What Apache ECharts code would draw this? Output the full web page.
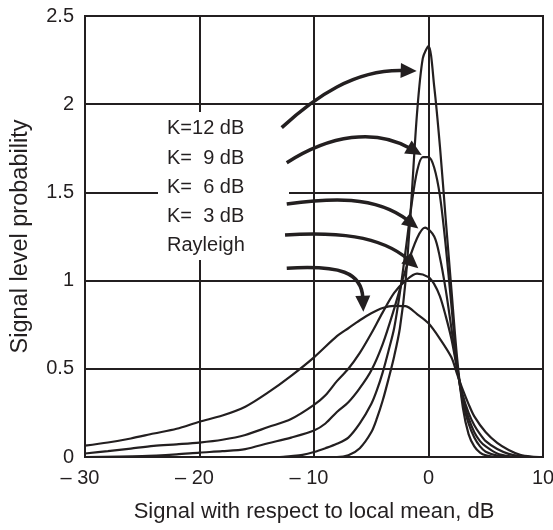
<!DOCTYPE html>
<html>
<head>
<meta charset="utf-8">
<script src="https://cdn.jsdelivr.net/npm/echarts@6/dist/echarts.min.js"></script>
<style>
html,body{margin:0;padding:0;background:#fff;}
#chart{width:553px;height:530px;}
</style>
</head>
<body>
<div id="chart"></div>
<script>
// ---- data ----
const xTicks = [-30, -20, -10, 0, 10];
const yTicks = [0, 0.5, 1, 1.5, 2, 2.5];

const rayleighX = [-30,-28,-26,-24,-22,-20,-18,-16,-14,-12,-10,-8,-7,-6,-5,-4,-3,-2,-1,0,1,2,2.5,3,3.5,4,5,6,7,8,9,10];
const rayleighY = [0.064,0.082,0.105,0.133,0.16,0.2,0.235,0.285,0.366,0.46,0.565,0.685,0.73,0.775,0.815,0.845,0.857,0.855,0.81,0.758,0.67,0.565,0.47,0.38,0.30,0.23,0.14,0.08,0.04,0.013,0.003,0];

const k3X = [-30,-28,-26,-24,-22,-20,-18,-16,-14,-12,-10,-9,-8,-7,-6,-5,-4,-3,-2,-1,0,0.5,1,1.5,2,2.5,3,3.5,4,4.5,5,6,7,8,9,10];
const k3Y = [0.02,0.033,0.048,0.063,0.072,0.082,0.098,0.125,0.17,0.215,0.295,0.35,0.43,0.5,0.59,0.70,0.82,0.93,1.0,1.04,1.02,0.98,0.91,0.80,0.67,0.50,0.35,0.25,0.18,0.13,0.09,0.045,0.018,0.005,0,0];

const k6X = [-30,-25,-22,-20,-18,-16,-14,-12,-10,-9,-8,-7,-6,-5,-4,-3,-2,-1,-0.3,0.5,1,1.5,2,2.5,3,3.5,4,4.5,5,6,7,8,10];
const k6Y = [0,0.005,0.015,0.025,0.033,0.045,0.078,0.11,0.15,0.19,0.255,0.31,0.39,0.49,0.64,0.84,1.06,1.24,1.30,1.25,1.13,0.95,0.73,0.50,0.33,0.22,0.14,0.09,0.06,0.02,0.005,0,0];

const k9X = [-30,-13,-12,-11,-10,-9,-8,-7,-6,-5,-4.5,-4,-3.5,-3,-2.5,-2,-1.5,-1,-0.5,0,0.5,1,1.5,2,2.5,3,3.5,4,4.5,5,6,7,10];
const k9Y = [0,0,0.005,0.012,0.028,0.05,0.075,0.11,0.19,0.30,0.38,0.48,0.60,0.73,0.93,1.17,1.42,1.62,1.70,1.70,1.64,1.48,1.20,0.86,0.52,0.31,0.19,0.11,0.06,0.03,0.008,0,0];

const k12X = [-30,-8,-7,-6,-5,-4.5,-4,-3.5,-3,-2.5,-2,-1.5,-1,-0.5,0,0.5,1,1.5,2,2.5,3,3.5,4,4.5,5,6,10];
const k12Y = [0,0,0.01,0.05,0.14,0.22,0.32,0.44,0.57,0.73,1.0,1.45,1.95,2.26,2.33,2.1,1.76,1.35,0.95,0.56,0.28,0.13,0.06,0.025,0.01,0,0];

const labelTexts = ['K=12 dB', 'K=  9 dB', 'K=  6 dB', 'K=  3 dB', 'Rayleigh'];
// arrow paths in data units: start, control1, control2, tip
const arrowPaths = [
  [[-12.82,1.867],[-9.91,2.041],[-6.42,2.200],[-1.03,2.188]],
  [[-12.38,1.668],[-8.60,1.825],[-4.67,1.865],[-0.59,1.712]],
  [[-12.38,1.434],[-8.60,1.468],[-4.67,1.485],[-0.89,1.296]],
  [[-12.53,1.259],[-8.17,1.276],[-4.24,1.259],[-0.89,1.070]],
  [[-12.38,1.070],[-7.73,1.088],[-5.81,1.049],[-5.69,0.824]]
];

// ---- chart ----
const INK = '#231f20';
const FONT = '"Liberation Sans", Arial, sans-serif';
const zip = (xs, ys) => xs.map((x, i) => [x, ys[i]]);
const seriesData = [
  zip(rayleighX, rayleighY), zip(k3X, k3Y), zip(k6X, k6Y), zip(k9X, k9Y), zip(k12X, k12Y)
];

const chart = echarts.init(document.getElementById('chart'), null, {renderer: 'canvas'});
const option = {
  animation: false,
  backgroundColor: '#fff',
  grid: {left: 85, right: 10, top: 16, bottom: 73, containLabel: false, outerBoundsMode: 'none',
         show: true, borderColor: INK, borderWidth: 2, backgroundColor: 'transparent'},
  xAxis: {
    type: 'value', min: xTicks[0], max: xTicks[xTicks.length - 1], interval: 10,
    axisLine: {show: true, onZero: false, lineStyle: {color: INK, width: 2}},
    axisTick: {show: false},
    splitLine: {show: true, lineStyle: {color: INK, width: 2}},
    axisLabel: {
      margin: 11, fontSize: 20, fontFamily: FONT, color: INK,
      formatter: v => v < 0 ? '\u2013 ' + Math.abs(v) + '\u2002' : String(v)
    },
    name: 'Signal with respect to local mean, dB', nameLocation: 'middle', nameGap: 44,
    nameTextStyle: {fontSize: 22, fontFamily: FONT, color: INK}
  },
  yAxis: {
    type: 'value', min: yTicks[0], max: yTicks[yTicks.length - 1], interval: 0.5,
    axisLine: {show: true, lineStyle: {color: INK, width: 2}},
    axisTick: {show: false},
    splitLine: {show: true, lineStyle: {color: INK, width: 2}},
    axisLabel: {margin: 11, fontSize: 20, fontFamily: FONT, color: INK},
    name: 'Signal level probability', nameLocation: 'middle', nameGap: 52,
    nameTextStyle: {fontSize: 23.5, fontFamily: FONT, color: INK}
  },
  series: seriesData.map((d, i) => ({
    type: 'line', name: labelTexts[i], data: d, smooth: 0.3, showSymbol: false,
    lineStyle: {color: INK, width: 2.2}, z: 3
  }))
};
chart.setOption(option);

function drawAnnotations() {
  const g = [];
  g.push({type: 'rect', shape: {x: 158, y: 112, width: 131, height: 148}, style: {fill: '#fff'}, z: 10});
  const rowY = [128, 158, 187, 216.5, 245.5];
  labelTexts.forEach((t, i) => {
    g.push({type: 'text', x: 167, y: rowY[i], z: 11,
      style: {text: t, font: '20px ' + FONT, fill: INK, textVerticalAlign: 'middle', verticalAlign: 'middle'}});
  });
  arrowPaths.forEach(p => {
    const px = p.map(pt => chart.convertToPixel({xAxisIndex: 0, yAxisIndex: 0}, pt));
    const [p0, c1, c2, tip] = px;
    let dx = tip[0] - c2[0], dy = tip[1] - c2[1];
    const len = Math.hypot(dx, dy); dx /= len; dy /= len;
    const headLen = 16, halfW = 7.5;
    const base = [tip[0] - dx * headLen, tip[1] - dy * headLen];
    const shaftEnd = [tip[0] - dx * (headLen - 3), tip[1] - dy * (headLen - 3)];
    g.push({type: 'bezierCurve', z: 12,
      shape: {x1: p0[0], y1: p0[1], cpx1: c1[0], cpy1: c1[1], cpx2: c2[0], cpy2: c2[1], x2: shaftEnd[0], y2: shaftEnd[1]},
      style: {stroke: INK, lineWidth: 3.5, fill: null}});
    g.push({type: 'polygon', z: 12,
      shape: {points: [tip, [base[0] - dy * halfW, base[1] + dx * halfW], [base[0] + dy * halfW, base[1] - dx * halfW]]},
      style: {fill: INK}});
  });
  chart.setOption({graphic: g});
}
drawAnnotations();
</script>
</body>
</html>
